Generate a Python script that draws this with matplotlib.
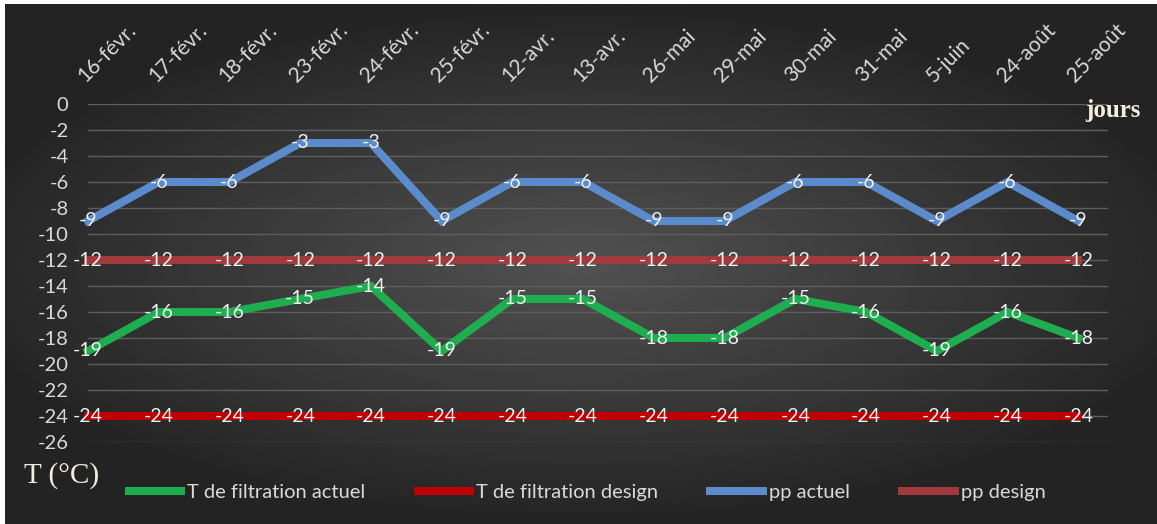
import numpy as np
import matplotlib
matplotlib.use("Agg")
import matplotlib.pyplot as plt

# jours de mesure
jours = ["16-févr.", "17-févr.", "18-févr.", "23-févr.", "24-févr.", "25-févr.",
         "12-avr.", "13-avr.", "26-mai", "29-mai", "30-mai", "31-mai",
         "5-juin", "24-août", "25-août"]

# températures (°C)
t_filtration_actuel = [-19, -16, -16, -15, -14, -19, -15, -15, -18, -18, -15, -16, -19, -16, -18]
t_filtration_design = [-24] * 15
pp_actuel = [-9, -6, -6, -3, -3, -9, -6, -6, -9, -9, -6, -6, -9, -6, -9]
pp_design = [-12] * 15

plt.rcParams['font.family'] = ['Lato', 'DejaVu Sans']

W, H = 1157, 524
fig = plt.figure(figsize=(W / 100, H / 100), dpi=100, facecolor='white')

# fond sombre avec dégradé radial
bg = fig.add_axes([5 / W, 0, 1 - 5 / W, 1 - 4 / H])
bg.axis('off')
yy, xx = np.mgrid[-1:1:300j, -1:1:600j]
r = np.sqrt((xx / 1.0) ** 2 + (yy / 0.9) ** 2)
grad = np.clip(0.32 - 0.16 * r, 0.14, 0.32)
bg.imshow(grad, cmap='gray', vmin=0, vmax=1, aspect='auto', extent=[0, 1, 0, 1])

ax = fig.add_axes([88 / W, 1 - 442 / H, 1020 / W, 338 / H])
ax.patch.set_alpha(0)
x = np.arange(len(jours))

series = [
    (t_filtration_actuel, '#1fae4f', 'T de filtration actuel'),
    (t_filtration_design, '#c00000', 'T de filtration design'),
    (pp_actuel, '#5b8bcb', 'pp actuel'),
    (pp_design, '#a03a3c', 'pp design'),
]
for vals, col, lab in series:
    ax.plot(x, vals, color=col, lw=5.8, label=lab, clip_on=False,
            solid_joinstyle='miter', zorder=3)
    for xi, v in zip(x, vals):
        ax.text(xi, v, str(v), ha='center', va='center', color='#f2f2f2',
                fontsize=14, zorder=4, clip_on=False)

ax.set_xlim(0, 14.42)
ax.set_ylim(-26, 0)
ax.set_yticks(np.arange(-26, 1, 2))
ax.set_yticklabels([str(v) for v in range(-26, 1, 2)])
ax.grid(axis='y', color='#5e5e5e', lw=1)
ax.set_axisbelow(True)
for s in ax.spines.values():
    s.set_visible(False)

ax.xaxis.tick_top()
ax.set_xticks(x)
ax.set_xticklabels(jours, rotation=45, ha='left', va='bottom',
                   rotation_mode='anchor')
ax.tick_params(axis='x', length=0, pad=13, labelsize=15, labelcolor='#d9d9d9')
ax.tick_params(axis='y', length=0, pad=14, labelsize=14.5, labelcolor='#d9d9d9')

fig.text(1113 / W, 1 - 110 / H, 'jours', family='Liberation Serif',
         fontsize=18, fontweight='bold', color='#f3efdc', ha='center', va='center')
fig.text(62 / W, 1 - 476 / H, 'T (°C)', family='Liberation Serif',
         fontsize=21, color='#f3efdc', ha='center', va='center')

leg = fig.legend(loc='center', bbox_to_anchor=(587 / W, 1 - 492 / H), ncol=4,
                 frameon=False, fontsize=14.5, handlelength=2.6, handletextpad=0.3,
                 columnspacing=2.6, labelcolor='#d9d9d9')

fig.savefig('out.png', dpi=100, facecolor=fig.get_facecolor())
